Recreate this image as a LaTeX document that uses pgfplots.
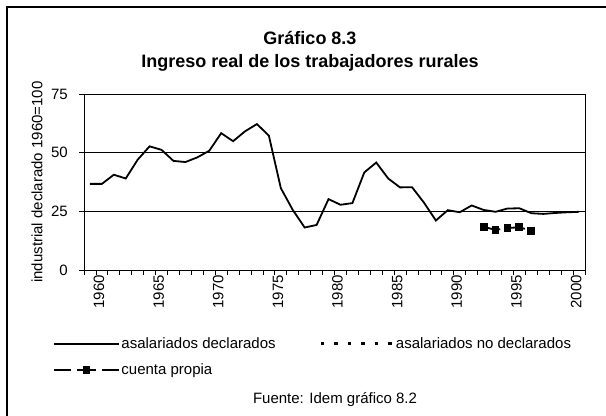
\documentclass[border=0pt]{standalone}
\usepackage{fontspec}
\setmainfont{Liberation Sans}
\usepackage{pgfplots}
\pgfplotsset{compat=1.18}
\pgfplotstableread{
year val
1960 36.7
1961 36.7
1962 40.6
1963 39.0
1964 47.0
1965 52.7
1966 51.2
1967 46.5
1968 46.0
1969 48.0
1970 50.8
1971 58.3
1972 54.9
1973 59.1
1974 62.2
1975 57.2
1976 34.9
1977 25.6
1978 18.1
1979 19.2
1980 30.2
1981 27.8
1982 28.5
1983 41.6
1984 45.8
1985 39.0
1986 35.2
1987 35.3
1988 28.7
1989 21.1
1990 25.5
1991 24.6
1992 27.5
1993 25.6
1994 24.8
1995 26.2
1996 26.3
1997 24.2
1998 23.9
1999 24.3
2000 24.6
2001 24.8
}\declarados
\pgfplotstableread{
year val
1993 18.4
1994 17.1
1995 17.9
1996 18.2
1997 16.7
}\cuenta
\begin{document}
\fontsize{15bp}{18bp}\selectfont
\begin{tikzpicture}
\useasboundingbox (0bp,0bp) rectangle (606bp,416bp);
\draw[line width=1.3bp] (7bp,0bp) -- (7bp,409bp) -- (606bp,409bp);
\node[font=\fontsize{18bp}{21bp}\selectfont\bfseries] at (310bp,378bp) {Gráfico 8.3};
\node[font=\fontsize{18bp}{21bp}\selectfont\bfseries] at (310bp,353bp) {Ingreso real de los trabajadores rurales};
\node at (335bp,16bp) {Fuente: Idem gráfico 8.2};
\begin{axis}[
  at={(84bp,146bp)}, anchor=south west,
  scale only axis, width=501bp, height=176bp,
  xmin=1959.5, xmax=2001.5, ymin=0, ymax=75,
  /pgf/number format/assume math mode=true,
  ytick={0,25,50,75},
  xtick={1959.5,1960.5,1961.5,1962.5,1963.5,1964.5,1965.5,1966.5,1967.5,1968.5,1969.5,1970.5,1971.5,1972.5,1973.5,1974.5,1975.5,1976.5,1977.5,1978.5,1979.5,1980.5,1981.5,1982.5,1983.5,1984.5,1985.5,1986.5,1987.5,1988.5,1989.5,1990.5,1991.5,1992.5,1993.5,1994.5,1995.5,1996.5,1997.5,1998.5,1999.5,2000.5,2001.5},
  xticklabels={},
  extra x ticks={1960,1965,1970,1975,1980,1985,1990,1995,2000},
  extra x tick labels={1960,1965,1970,1975,1980,1985,1990,1995,2000},
  extra x tick style={major tick length=0pt, xticklabel style={rotate=90, anchor=east, yshift=-9bp}},
  tick align=outside, major tick length=5bp,
  tick style={black, line width=0.8bp},
  xtick pos=bottom, ytick pos=left,
  axis line style={black, line width=0.9bp},
  ymajorgrids, grid style={black, line width=0.6bp},
  yticklabel style={xshift=-6bp},
  tick label style={font=\fontsize{15bp}{18bp}\selectfont},
  ylabel={industrial declarado 1960=100},
  every axis y label/.style={at={(axis description cs:-0.0938,0.5)}, rotate=90, anchor=center, font=\fontsize{15bp}{18bp}\selectfont},
  legend columns=2,
  legend cell align=left,
  legend style={draw=none, fill=none, at={(axis description cs:-0.062,-0.372)}, anchor=north west,
    inner sep=0pt, row sep=10bp, column sep=0pt, nodes={inner sep=1.5bp, anchor=west},
    font=\fontsize{15bp}{18bp}\selectfont},
  legend image code/.code={\draw[mark repeat=2,mark phase=2,#1] plot coordinates {(0bp,0bp) (32.5bp,0bp) (65bp,0bp)};},
]
\addplot[black, line width=1.8bp, mark=none] table[x=year,y=val] {\declarados};
\addlegendentry{\makebox[196bp][l]{asalariados declarados}}
\addlegendimage{legend image code/.code={\draw[black, line width=3.5bp, dash pattern=on 3.5bp off 10bp] (0bp,0bp) -- (72bp,0bp);}}
\addlegendentry{asalariados no declarados}
\addplot[black, line width=1.8bp, dash pattern=on 17bp off 6bp on 19bp off 6bp, mark=square*, mark size=3bp, mark options={solid}] table[x=year,y=val] {\cuenta};
\addlegendentry{cuenta propia}
\end{axis}
\end{tikzpicture}
\end{document}
